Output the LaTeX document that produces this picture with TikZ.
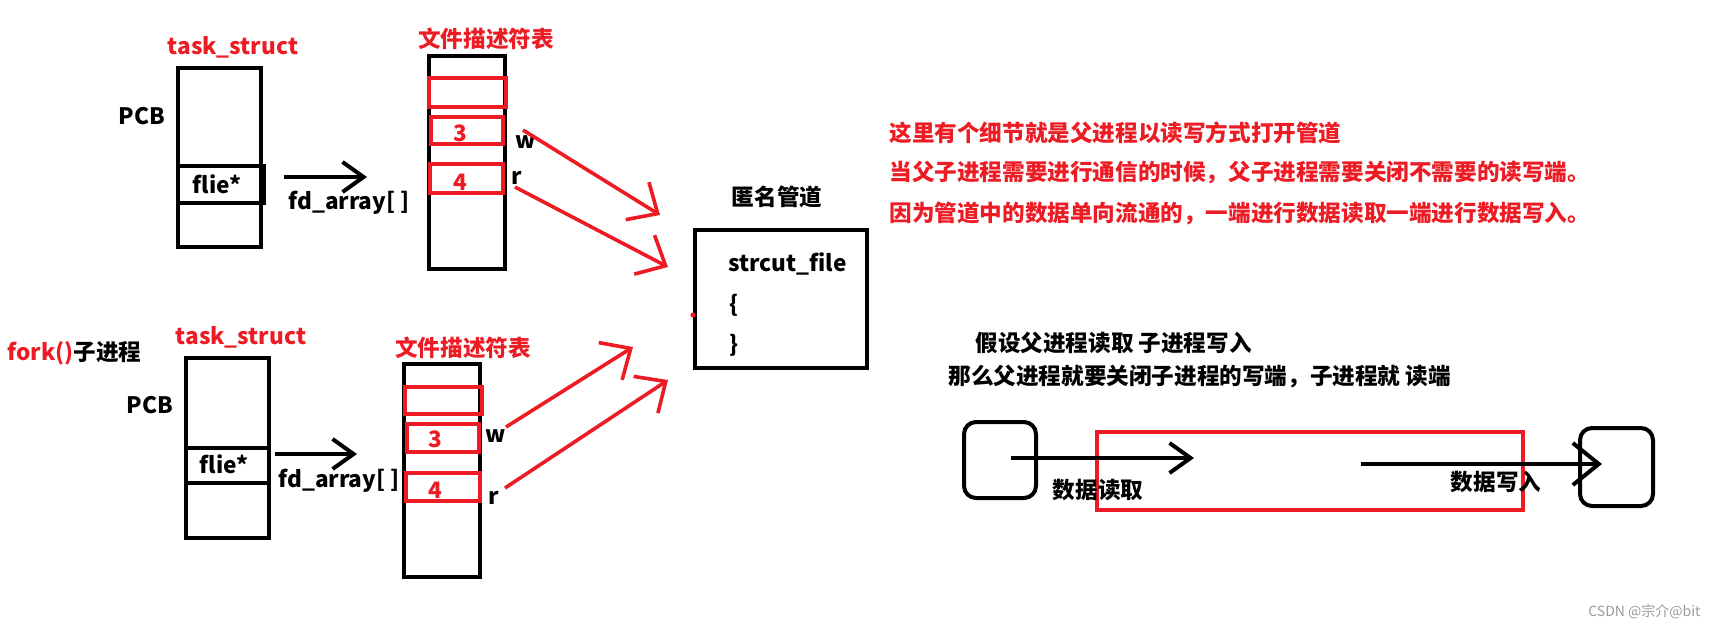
\documentclass[tikz,border=0pt]{standalone}
\usepackage{fontspec}
\setmainfont{Noto Sans CJK SC}
\usepackage{tikz}
\usetikzlibrary{arrows.meta}

\definecolor{paintred}{HTML}{ED1C24}
\definecolor{markgray}{HTML}{9A9A9A}
\newcommand\lblfont{\fontsize{11.3pt}{13pt}\selectfont\bfseries}

\begin{document}
\begin{tikzpicture}[x=0.5pt, y=-0.5pt,
    box/.style={line width=2pt},
    redbox/.style={draw=paintred, line width=2pt},
    lbl/.style={inner sep=0pt, font=\lblfont},
    redlbl/.style={lbl, text=paintred},
    ptr/.style={line width=2pt, -{Straight Barb[length=10.5pt, width=15pt]}},
    bigptr/.style={line width=2pt, -{Straight Barb[length=13pt, width=21pt]}},
    redptr/.style={draw=paintred, line width=1.8pt, -{Straight Barb[length=12pt, width=22pt]}}]
            \useasboundingbox (0,0) rectangle (1725,629);
            \fill [white] (0,0) rectangle (1725,629);

            % Parent: task_struct / PCB
            \node [redlbl] (tsA) at (233,47) {task\_struct};
            \draw [box] (178,68) rectangle (261,247);
            \draw [box] (178,166) rectangle (264,203);
            \node [lbl] (pcbA) at (142,116) {PCB};
            \node [lbl] (flieA) at (217,184) {flie*};
            \coordinate (ptrA1) at (284,177);
            \coordinate (ptrA2) at (367,177);
            \draw [ptr] (ptrA1) -- (ptrA2);
            \node [lbl] (fdarrA) at (349,203) {fd\_array[ ]};

            % Parent: fd table
            \node [redlbl] (fdtA) at (486,39) {文件描述符表};
            \draw [box] (429,56) rectangle (505,269);
            \draw [redbox] (429,78) rectangle (506,107);
            \draw [redbox] (431,117) rectangle (503,144);
            \draw [redbox] (430,164) rectangle (503,193);
            \node [redlbl] (fd3A) at (460,133) {3};
            \node [redlbl] (fd4A) at (460,182) {4};
            \node [lbl] (wA) at (526,142) {w};
            \node [lbl] (rA) at (517,178) {r};

            % Child: task_struct / PCB
            \node [lbl, anchor=west] (fork) at (7,353) {\textcolor{paintred}{fork()}子进程};
            \node [redlbl] (tsB) at (241,337) {task\_struct};
            \draw [box] (186,358) rectangle (269,538);
            \draw [box] (186,448) rectangle (269,483);
            \node [lbl] (pcbB) at (150,405) {PCB};
            \node [lbl] (flieB) at (224,464) {flie*};
            \coordinate (ptrB1) at (275,454);
            \coordinate (ptrB2) at (357,454);
            \draw [ptr] (ptrB1) -- (ptrB2);
            \node [lbl] (fdarrB) at (339,481) {fd\_array[ ]};

            % Child: fd table
            \node [redlbl] (fdtB) at (463,348) {文件描述符表};
            \draw [box] (404,364) rectangle (480,577);
            \draw [redbox] (405,387) rectangle (482,414);
            \draw [redbox] (407,424) rectangle (479,452);
            \draw [redbox] (406,473) rectangle (480,501);
            \node [redlbl] (fd3B) at (435,439) {3};
            \node [redlbl] (fd4B) at (435,490) {4};
            \node [lbl] (wB) at (496,436) {w};
            \node [lbl] (rB) at (494,498) {r};

            % Anonymous pipe
            \node [lbl] (pipeT) at (777,197) {匿名管道};
            \draw [box] (695,230) rectangle (867,368);
            \node [lbl, anchor=west] (sfile) at (728,264) {strcut\_file};
            \node [lbl, anchor=west] (lbr) at (729,305) {\{};
            \node [lbl, anchor=west] (rbr) at (729,345) {\}};
            \fill [paintred] (693,315) circle (1.3pt);

            % w / r ends into the pipe
            \coordinate (wA1) at (523,130);  \coordinate (wA2) at (660,215);
            \coordinate (rA1) at (515,187);  \coordinate (rA2) at (668,267);
            \coordinate (wB1) at (506,427);  \coordinate (wB2) at (633,347);
            \coordinate (rB1) at (505,488);  \coordinate (rB2) at (668,380);
            \draw [redptr] (wA1) -- (wA2);
            \draw [redptr] (rA1) -- (rA2);
            \draw [redptr] (wB1) -- (wB2);
            \draw [redptr] (rB1) -- (rB2);

            % Notes
            \node [redlbl, anchor=west] (note1) at (889,133) {这里有个细节就是父进程以读写方式打开管道};
            \node [redlbl, anchor=west] (note2) at (889,173) {当父子进程需要进行通信的时候，父子进程需要关闭不需要的读写端。};
            \node [redlbl, anchor=west] (note3) at (889,213) {因为管道中的数据单向流通的，一端进行数据读取一端进行数据写入。};
            \node [lbl, anchor=west] (note4) at (975,343) {假设父进程读取 子进程写入};
            \node [lbl, anchor=west] (note5) at (948,377) {那么父进程就要关闭子进程的写端，子进程就 读端};

            % Parent - pipe - child
            \draw [box, rounded corners=6pt] (964,422) rectangle (1036,498);
            \draw [redbox] (1097,432) rectangle (1523,510);
            \draw [box, rounded corners=6pt] (1580,428) rectangle (1653,506);
            \coordinate (rd1) at (1011,458);  \coordinate (rd2) at (1194,458);
            \coordinate (wr1) at (1361,464);  \coordinate (wr2) at (1602,464);
            \draw [ptr] (rd1) -- (rd2);
            \draw [bigptr] (wr1) -- (wr2);
            \node [lbl] (rdT) at (1098,490) {数据读取};
            \node [lbl] (wrT) at (1496,482) {数据写入};

            \node [inner sep=0pt, text=markgray, font=\fontsize{7pt}{8pt}\selectfont, anchor=west] (mark) at (1588,612) {CSDN @宗介@bit};
        \end{tikzpicture}
\end{document}
